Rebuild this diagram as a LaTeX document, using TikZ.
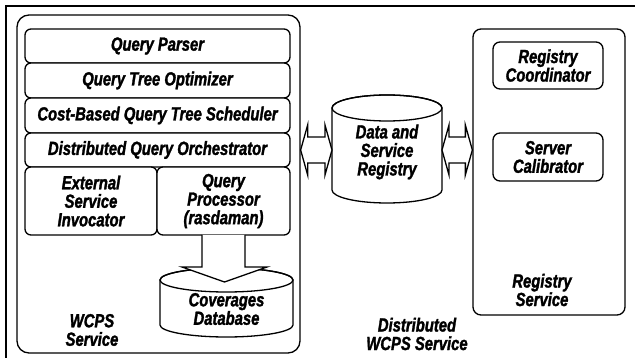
\documentclass[tikz,border=0pt]{standalone}
\usepackage{fontspec}
\setmainfont{Liberation Sans}[FakeStretch=0.78, FakeBold=1.6]
\usetikzlibrary{calc}

\tikzset{
  lbl/.style={font=\fontsize{19}{18.5}\selectfont\bfseries\itshape, align=center, inner sep=0pt},
  part/.style={lbl, draw, fill=white, line width=1.3pt, rounded corners=6pt},
  frame/.style={draw, line width=1.3pt},
  fat/.style={draw, fill=white, line width=1.3pt, line join=miter},
}

% vertical drum: left x, right x, top centre y, bottom centre y, half height of the rims
\newcommand\drum[5]{%
  \path[frame, fill=white] (#1,#3) -- (#1,#4)
    arc[start angle=180, end angle=0, x radius={(#2-#1)/2}, y radius=#5]
    -- (#2,#3)
    arc[start angle=0, end angle=-180, x radius={(#2-#1)/2}, y radius=#5] -- cycle;
  \draw[frame] ({(#1+#2)/2},#3) ellipse [x radius={(#2-#1)/2}, y radius=#5];
}

% two-headed block arrow between two tips on one horizontal line
\newcommand\twoway[2]{%
  \draw[fat] (#1) -- ++(7,-25) -- ++(0,12) -- ($(#2)+(-7,-13)$) -- ++(0,-12)
    -- (#2) -- ++(-7,25) -- ++(0,-12) -- ($(#1)+(7,13)$) -- ++(0,12) -- cycle;
}

\begin{document}
\begin{tikzpicture}[x=1pt, y=-1pt]
\useasboundingbox (0,0) rectangle (635,358);
\fill[white] (0,0) rectangle (635,358);

% outer frame, running off the page to the right and below
\draw[line width=2pt] (6,370) -- (6,6) -- (645,6);

% WCPS service
\node[part, rounded corners=12pt, minimum width=283pt, minimum height=338pt] (wcps) at (158.5,184) {};
\node[part, minimum width=265pt, minimum height=34pt] (parser) at (157.5,46) {Query Parser};
\node[part, minimum width=265pt, minimum height=35pt] (optim) at (157.5,80.5) {Query Tree Optimizer};
\node[part, minimum width=265pt, minimum height=35pt] (sched) at (157.5,115.5) {Cost-Based Query Tree Scheduler};
\node[part, minimum width=265pt, minimum height=34pt] (orch) at (157.5,150) {Distributed Query Orchestrator};
\node[part, minimum width=132pt, minimum height=68pt] (ext) at (91,201) {External\\Service\\Invocator};
\node[part, minimum width=133pt, minimum height=68pt] (proc) at (223.5,201) {Query\\Processor\\(rasdaman)};

% coverages database
\drum{160}{293}{280}{325}{12}
\node[lbl] (covdb) at (226.5,309) {Coverages\\Database};
\draw[fat] (202,235) -- (202,267) -- (182,267) -- (224.5,282) -- (267,267) -- (245,267) -- (245,235);
\node[lbl] (wcpslbl) at (92,330) {WCPS\\Service};

% registry data store
\drum{332}{442}{108}{190}{13}
\node[lbl] (dsr) at (387,152) {Data and\\Service\\Registry};

% registry service
\node[part, rounded corners=8pt, minimum width=152pt, minimum height=286pt] (regsvc) at (549,172) {};
\node[part, rounded corners=7pt, minimum width=110pt, minimum height=47pt] (coord) at (548,65.5) {Registry\\Coordinator};
\node[part, rounded corners=7pt, minimum width=110pt, minimum height=48pt] (calib) at (548,157) {Server\\Calibrator};
\node[lbl] (reglbl) at (542,290) {Registry\\Service};

% links to the registry store
\coordinate (l1) at (wcps.east |- 0,150);
\coordinate (l2) at (332,150);
\coordinate (r1) at (442,150);
\coordinate (r2) at (regsvc.west |- 0,150);
\twoway{l1}{l2}
\twoway{r1}{r2}

\node[lbl] (dist) at (417,334) {Distributed\\WCPS Service};
\end{tikzpicture}
\end{document}
